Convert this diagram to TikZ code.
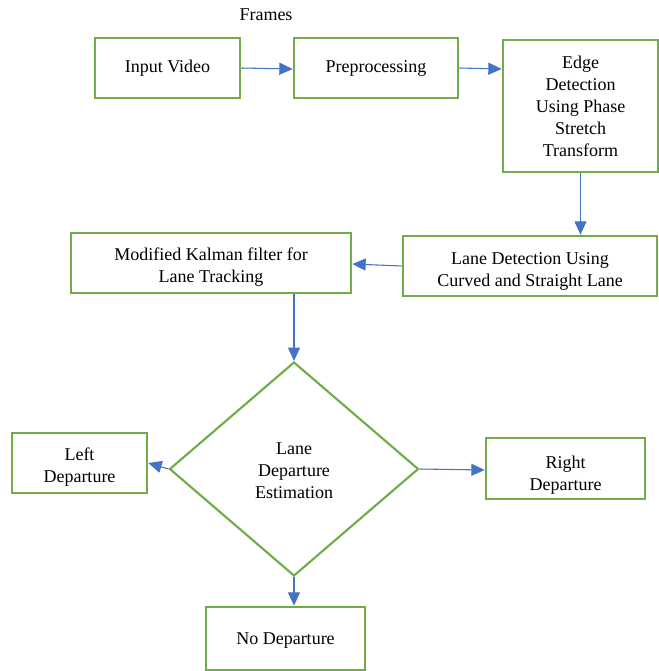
\documentclass[tikz,border=0pt]{standalone}
\usepackage{fontspec}
\setmainfont{Liberation Serif}
\newfontfamily\chartfont{Liberation Serif}
\usepackage{tikz}
\usetikzlibrary{arrows.meta,shapes.geometric}

\definecolor{boxgreen}{RGB}{112,173,71}
\definecolor{arrowblue}{RGB}{68,114,196}

\begin{document}
\begin{tikzpicture}[x=0.75pt,y=-0.75pt]
\tikzstyle{label}=[font=\chartfont\fontsize{13.5}{16.5}\selectfont, align=center]
\tikzstyle{block}=[rectangle, draw=boxgreen, line width=2pt, label]
\tikzstyle{decision}=[diamond, draw=boxgreen, line width=1.6pt, inner sep=0pt, label]
\tikzstyle{connect}=[-{Triangle[length=10pt,width=9pt]}, draw=arrowblue, fill=arrowblue, line width=0.8pt]
\useasboundingbox (0,0) rectangle (659,671);
  \node[label] (frames) at (266,15) {Frames};
  \node[block, minimum width=108.75pt, minimum height=45pt] (input) at (167.5,68) {Input Video};
  \node[block, minimum width=123pt, minimum height=45pt] (pre) at (376,68) {Preprocessing};
  \node[block, minimum width=116.25pt, minimum height=99pt] (edge) at (580.5,106) {Edge\\Detection\\Using Phase\\Stretch\\Transform};
  \node[block, minimum width=190.5pt, minimum height=45pt] (lane) at (530,266) {};
  \node[label] (lanetext) at (530,271) {Lane Detection Using\\Curved and Straight Lane};
  \node[block, minimum width=210pt, minimum height=45pt] (kalman) at (211,263) {};
  \node[label] (kalmantext) at (211,267) {Modified Kalman filter for\\Lane Tracking};
  \node[decision, minimum width=186.75pt, minimum height=160.5pt] (est) at (294,469) {};
  \node[label] (esttext) at (294,471) {Lane\\Departure\\Estimation};
  \node[block, minimum width=101.25pt, minimum height=45pt] (left) at (79.5,463) {};
  \node[label] (lefttext) at (79.5,467) {Left\\Departure};
  \node[block, minimum width=119.25pt, minimum height=45.75pt] (right) at (565.5,468.5) {};
  \node[label] (righttext) at (565.5,475) {Right\\Departure};
  \node[block, minimum width=119.25pt, minimum height=47.25pt] (nodep) at (285.5,638.5) {};
  \node[label] (nodeptext) at (285.5,641) {No Departure};
  \path
        (input.east) edge [connect] (pre.west |- 0,69)
        (pre.east) edge [connect] (edge.west |- 0,69)
        (edge.south) edge [connect] (lane.north -| edge.south)
        (lane.west) edge [connect] (kalman.east |- 0,264)
        (kalman.south -| est.north) edge [connect] (est.north)
        (est.west) edge [connect] (left.east)
        (est.east) edge [connect] (right.west |- 0,470)
        (est.south) edge [connect] (nodep.north -| est.south);
\end{tikzpicture}
\end{document}
